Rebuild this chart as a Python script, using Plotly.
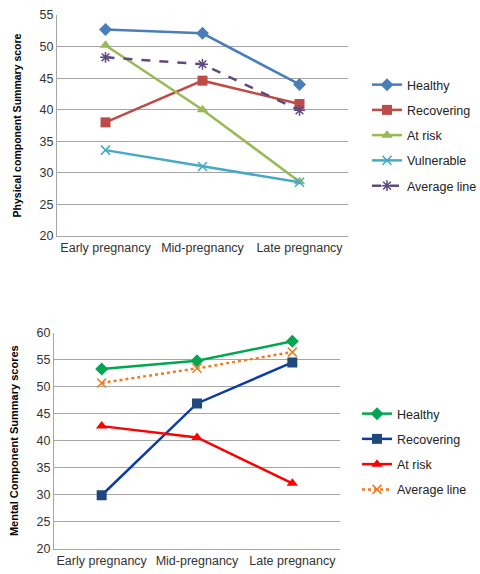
import plotly.graph_objects as go

categories = ["Early pregnancy", "Mid-pregnancy", "Late pregnancy"]

# Physical component summary scores
pcs_healthy = [52.7, 52.1, 44.0]
pcs_recovering = [38.0, 44.6, 40.9]
pcs_at_risk = [50.2, 40.0, 28.6]
pcs_vulnerable = [33.6, 31.0, 28.5]
pcs_average = [48.3, 47.2, 39.9]

# Mental component summary scores
mcs_healthy = [53.3, 54.8, 58.4]
mcs_recovering = [29.9, 46.9, 54.5]
mcs_at_risk = [42.7, 40.6, 32.1]
mcs_average = [50.7, 53.4, 56.4]

FONT = "Liberation Sans"
fig = go.Figure()

def add(x, y, name, color, symbol, xa, ya, legend, dash="solid", msize=9, open_sym=False, lcolor=None):
    marker = dict(symbol=symbol, size=msize, color=color)
    if open_sym:
        marker["line"] = dict(width=1.5, color=color)
    fig.add_trace(go.Scatter(
        x=x, y=y, name=name, mode="lines+markers",
        line=dict(color=lcolor or color, width=2.5, dash=dash),
        marker=marker, xaxis=xa, yaxis=ya, legend=legend,
        legendgroup=name + legend,
    ))

add(categories, pcs_healthy, "Healthy", "#4A7EBB", "diamond", "x", "y", "legend", msize=10)
add(categories, pcs_recovering, "Recovering", "#BE4B48", "square", "x", "y", "legend", msize=10)
add(categories, pcs_at_risk, "At risk", "#98B954", "triangle-up", "x", "y", "legend", msize=10)
add(categories, pcs_vulnerable, "Vulnerable", "#46AAC5", "x-thin-open", "x", "y", "legend", open_sym=True)
add(categories, pcs_average, "Average line", "#5E4A7E", "asterisk-open", "x", "y", "legend", dash="dash", open_sym=True)

add(categories, mcs_healthy, "Healthy", "#00A651", "diamond", "x2", "y2", "legend2", msize=10)
add(categories, mcs_recovering, "Recovering", "#1F497D", "square", "x2", "y2", "legend2", msize=10, lcolor="#0D3BAA")
add(categories, mcs_at_risk, "At risk", "#FF0000", "triangle-up", "x2", "y2", "legend2", msize=10)
add(categories, mcs_average, "Average line", "#F07B22", "x-thin-open", "x2", "y2", "legend2", dash="dot", open_sym=True)

W, H = 480, 574
tick_font = dict(family=FONT, size=12.5, color="#333333")

def yaxis(dom, rng, title, anchor, tsize):
    return dict(domain=dom, range=rng, dtick=5, tick0=0, showgrid=True, gridcolor="#A6A6A6",
                gridwidth=1, showline=True, linecolor="#A6A6A6", linewidth=1,
                ticks="", tickfont=tick_font, zeroline=False, anchor=anchor, automargin=False,
                title=dict(text="<b>" + title + "</b>",
                           font=dict(family=FONT, size=tsize, color="#000000"), standoff=15))

def xaxis(dom, anchor):
    return dict(domain=dom, showline=True, linecolor="#A6A6A6", linewidth=1, showgrid=False,
                ticks="", tickfont=tick_font, anchor=anchor, range=[-0.5, 2.5], automargin=False)

fig.update_layout(
    width=W, height=H, margin=dict(l=0, r=0, t=0, b=0, autoexpand=False),
    paper_bgcolor="white", plot_bgcolor="white",
    font=dict(family=FONT),
    xaxis=xaxis([57 / W, 348 / W], "y"),
    yaxis=yaxis([1 - 236 / H, 1 - 15 / H], [20, 55], "Physical component Summary score", "x", 10.5),
    xaxis2=xaxis([54 / W, 340 / W], "y2"),
    yaxis2=yaxis([1 - 548.7 / H, 1 - 332.7 / H], [20, 60], "Mental Component Summary scores", "x2", 11),
    legend=dict(x=367 / W, y=1 - 70 / H, xanchor="left", yanchor="top",
                font=dict(family=FONT, size=12.5, color="#222222"), tracegroupgap=6,
                bgcolor="rgba(0,0,0,0)"),
    legend2=dict(x=357 / W, y=1 - 399 / H, xanchor="left", yanchor="top",
                 font=dict(family=FONT, size=12.5, color="#222222"), tracegroupgap=6,
                 bgcolor="rgba(0,0,0,0)"),
    showlegend=True,
)

fig.write_html("out.html", config={"displayModeBar": False},
               post_script="document.body.style.margin='0px';document.body.style.overflow='hidden';")
